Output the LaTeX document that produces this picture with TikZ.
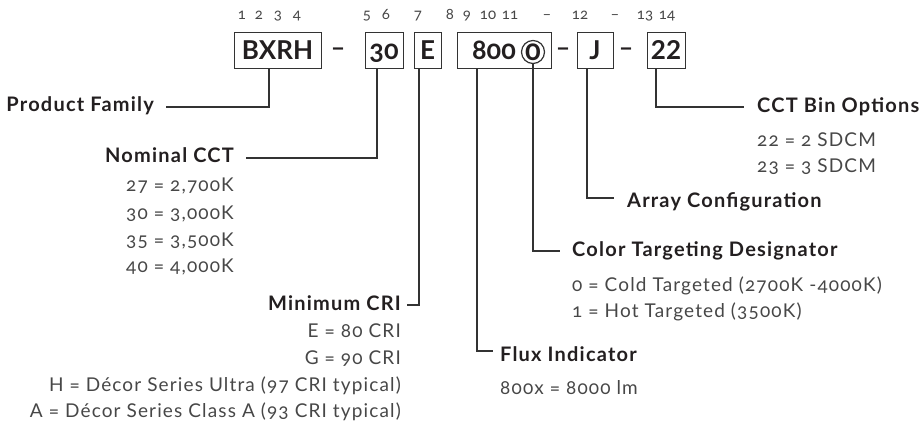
\documentclass[tikz,border=0pt]{standalone}
\usepackage{fontspec}
\setmainfont{Lato}[Numbers=OldStyle]
\newfontfamily\boxfont{Lato}[Numbers=Lining]
\newfontfamily\labfont{Lato}[Numbers=OldStyle, LetterSpace=6]
\newfontfamily\valfont{Lato}[Numbers=OldStyle, LetterSpace=6]
\definecolor{textc}{HTML}{231F20}
\definecolor{valc}{HTML}{474747}
\definecolor{linec}{HTML}{333333}
\begin{document}
\begin{tikzpicture}[x=1pt,y=-1pt,
  codebox/.style={draw=linec, line width=1pt, minimum height=36pt, inner sep=0pt,
     text height=17pt, text depth=0pt, text=textc,
     font=\boxfont\bfseries\fontsize{26}{26}\selectfont},
  oldbox/.style={codebox, font=\bfseries\fontsize{27}{27}\selectfont},
  sep/.style={inner sep=0pt, text=textc, font=\boxfont\bfseries\fontsize{25}{25}\selectfont},
  lab/.style={inner sep=0pt, text=textc, font=\labfont\bfseries\fontsize{20}{20}\selectfont},
  val/.style={inner sep=0pt, text=valc, font=\valfont\fontsize{19}{19}\selectfont},
  dig/.style={inner sep=0pt, text=valc, anchor=base, font=\fontsize{15}{15}\selectfont},
  conn/.style={draw=linec, line width=1.2pt}]
\useasboundingbox (0,0) rectangle (920,422);

% position digits
\node[dig] (d1) at (242,20) {1};
\node[dig] (d2) at (259,20) {2};
\node[dig] (d3) at (278,20) {3};
\node[dig] (d4) at (297,20) {4};
\node[dig] (d5) at (367,20) {5};
\node[dig] (d6) at (386,20) {6};
\node[dig] (d7) at (418,20) {7};
\node[dig] (d8) at (450,20) {8};
\node[dig] (d9) at (467,20) {9};
\node[dig] (d10) at (488,20) {10};
\node[dig] (d11) at (510,20) {11};
\node[dig] (dd1) at (547,20) {–};
\node[dig] (d12) at (580,20) {12};
\node[dig] (dd2) at (615,20) {–};
\node[dig] (d13) at (645,20) {13};
\node[dig] (d14) at (667,20) {14};

% code boxes
\node[codebox, minimum width=87pt] (b1) at (277.5,51) {BXRH};
\node[sep] (s1) at (338,52) {–};
\node[oldbox, minimum width=38pt] (b2) at (384,51) {30};
\node[codebox, minimum width=27pt] (b3) at (427.5,51) {E};
\node[codebox, minimum width=94pt] (b4) at (504,51) {};
\node[inner sep=0pt, anchor=base, text=textc, font=\bfseries\fontsize{27}{27}\selectfont] (t800) at (494,59.5) {800};
\node[draw=linec, line width=1.2pt, circle, minimum size=23pt, inner sep=0pt, text=textc,
      font=\bfseries\fontsize{29}{29}\selectfont] (circ) at (533,52) {0};
\node[sep] (s2) at (563,52) {–};
\node[codebox, minimum width=36pt] (b5) at (595,51) {J};
\node[sep] (s3) at (626,52) {–};
\node[codebox, minimum width=38pt] (b6) at (666,51) {22};

% labels
\node[lab, anchor=base east] (pf) at (154,112) {Product Family};
\node[lab, anchor=base east] (nc) at (234,163) {Nominal CCT};
\node[lab, anchor=base east] (mc) at (401,310) {Minimum CRI};
\node[lab, anchor=base west] (fl) at (500,361) {Flux Indicator};
\node[lab, anchor=base west] (ct) at (572,256) {Color Targeting Designator};
\node[lab, anchor=base west] (ac) at (627,207) {Array Configuration};
\node[lab, anchor=base west] (cb) at (757,113) {CCT Bin Options};

% values
\node[val, anchor=base east] (nc1) at (234,192) {27 = 2,700K};
\node[val, anchor=base east] (nc2) at (234,219) {30 = 3,000K};
\node[val, anchor=base east] (nc3) at (234,246) {35 = 3,500K};
\node[val, anchor=base east] (nc4) at (234,272) {40 = 4,000K};
\node[val, anchor=base east] (mc1) at (401,337) {E = 80 CRI};
\node[val, anchor=base east] (mc2) at (401,364) {G = 90 CRI};
\node[val, anchor=base east] (mc3) at (401,391) {H = Décor Series Ultra (97 CRI typical)};
\node[val, anchor=base east] (mc4) at (401,417) {A = Décor Series Class A (93 CRI typical)};
\node[val, anchor=base west] (fl1) at (500,394) {800x = 8000 lm};
\node[val, anchor=base west] (ct1) at (572,291) {0 = Cold Targeted (2700K -4000K)};
\node[val, anchor=base west] (ct2) at (572,317) {1 = Hot Targeted (3500K)};
\node[val, anchor=base west] (cb1) at (757,147) {22 = 2 SDCM};
\node[val, anchor=base west] (cb2) at (757,173) {23 = 3 SDCM};

% connectors
\draw[conn] ([xshift=-8.5pt]b1.south) |- ([xshift=12pt,yshift=5pt]pf.base east);
\draw[conn] ([xshift=-7pt]b2.south) |- ([xshift=12pt,yshift=5pt]nc.base east);
\draw[conn] ([xshift=-8.5pt]b3.south) |- ([xshift=6pt,yshift=5pt]mc.base east);
\draw[conn] ([xshift=-27pt]b4.south) |- ([xshift=-7pt,yshift=10pt]fl.base west);
\draw[conn] (circ.south) |- ([xshift=-12pt,yshift=5pt]ct.base west);
\draw[conn] ([xshift=-8pt]b5.south) |- ([xshift=-13pt,yshift=9pt]ac.base west);
\draw[conn] ([xshift=-10pt]b6.south) |- ([xshift=-13pt,yshift=6pt]cb.base west);
\end{tikzpicture}
\end{document}
